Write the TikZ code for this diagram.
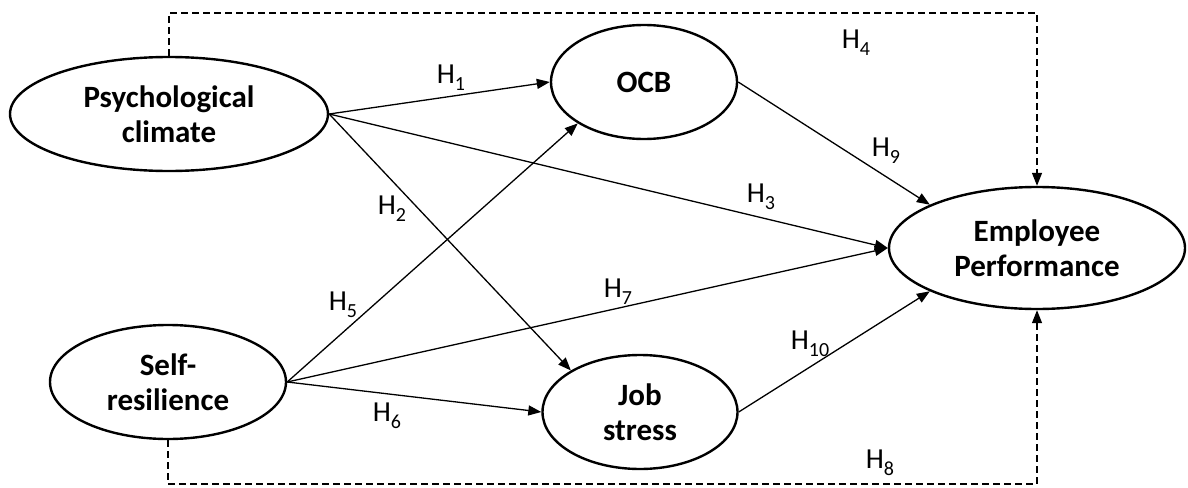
\documentclass[tikz,border=0pt]{standalone}
\usepackage{fontspec}
\setmainfont{Carlito}
\usetikzlibrary{shapes.geometric,arrows.meta}
\newcommand\hyplab[1]{H\raisebox{-0.25em}{\fontsize{20}{20}\selectfont #1}}
\begin{document}
\begin{tikzpicture}[x=1pt,y=-1pt,
  latent/.style={ellipse, draw, line width=2.4pt, inner sep=0pt, align=center,
    font=\fontsize{31}{35}\selectfont\bfseries},
  conn/.style={line width=1.3pt, -{Triangle[length=13pt,width=10pt]}},
  dconn/.style={conn, dash pattern=on 7pt off 4pt},
  hlab/.style={font=\fontsize{29}{30}\selectfont, inner sep=0pt}]
\useasboundingbox (0,0) rectangle (1188,487);
\node[latent, minimum width=318pt, minimum height=114pt] (pc) at (169,114) {Psychological\\climate};
\node[latent, minimum width=236pt, minimum height=114pt] (sr) at (168,382) {Self-\\resilience};
\node[latent, minimum width=186pt, minimum height=114pt] (ocb) at (644,82) {OCB};
\node[latent, minimum width=195pt, minimum height=114pt] (js) at (640,412) {Job\\stress};
\node[latent, minimum width=296pt, minimum height=122pt] (ep) at (1037,248) {Employee\\Performance};
\coordinate (topy) at (0,13);
\coordinate (boty) at (0,484);
\draw[conn] (pc.east) -- (ocb.west);
\draw[conn] (pc.east) -- (js.149);
\draw[conn] (pc.east) -- (ep.west);
\draw[conn] (sr.east) -- (ocb.212);
\draw[conn] (sr.east) -- (js.west);
\draw[conn] (sr.east) -- (ep.west);
\draw[conn] (ocb.east) -- (ep.158);
\draw[conn] (js.east) -- (ep.202);
\draw[dconn] (pc.north) -- (pc.north |- topy) -- (ep.north |- topy) -- (ep.north);
\draw[dconn] (sr.south) -- (sr.south |- boty) -- (ep.south |- boty) -- (ep.south);
\node[hlab] (h1) at (451,78) {\hyplab{1}};
\node[hlab] (h2) at (392,209) {\hyplab{2}};
\node[hlab] (h3) at (761,197) {\hyplab{3}};
\node[hlab] (h4) at (856,43) {\hyplab{4}};
\node[hlab] (h5) at (343,305) {\hyplab{5}};
\node[hlab] (h6) at (387,416) {\hyplab{6}};
\node[hlab] (h7) at (618,292) {\hyplab{7}};
\node[hlab] (h8) at (880,463) {\hyplab{8}};
\node[hlab] (h9) at (886,151) {\hyplab{9}};
\node[hlab] (h10) at (810,344) {\hyplab{10}};
\end{tikzpicture}
\end{document}
